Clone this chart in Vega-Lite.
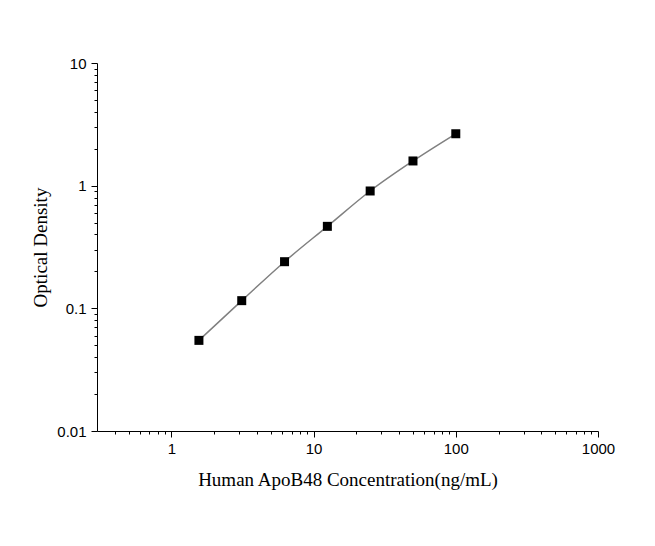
{
  "$schema": "https://vega.github.io/schema/vega-lite/v6.json",
  "autosize": {"type": "none"},
  "padding": {"left": 97, "top": 63, "right": 57, "bottom": 115},
  "width": 501,
  "height": 368,
  "background": "white",
  "config": {
    "view": {"stroke": null},
    "axis": {
      "domainColor": "black",
      "domainWidth": 1,
      "tickColor": "black",
      "tickWidth": 1,
      "labelColor": "black",
      "labelFont": "Liberation Sans",
      "labelFontSize": 15,
      "titleFont": "Liberation Serif",
      "titleFontSize": 19,
      "titleFontWeight": "normal",
      "titleColor": "black",
      "grid": false,
      "labelOverlap": false,
      "labelFlush": false
    }
  },
  "data": {
    "values": [
      {"conc": 1.5625, "od": 0.0548},
      {"conc": 3.125, "od": 0.1155},
      {"conc": 6.25, "od": 0.240},
      {"conc": 12.5, "od": 0.466},
      {"conc": 25, "od": 0.905},
      {"conc": 50, "od": 1.59},
      {"conc": 100, "od": 2.65}
    ]
  },
  "encoding": {
    "x": {
      "field": "conc",
      "type": "quantitative",
      "scale": {"type": "log", "domain": [0.3, 1000], "nice": false},
      "axis": {
        "title": "Human ApoB48 Concentration(ng/mL)",
        "titlePadding": 14,
        "labelPadding": 4,
        "values": [0.4, 0.5, 0.6, 0.7, 0.8, 0.9, 1, 2, 3, 4, 5, 6, 7, 8, 9, 10, 20, 30, 40, 50, 60, 70, 80, 90, 100, 200, 300, 400, 500, 600, 700, 800, 900, 1000],
        "labelExpr": "abs(log(datum.value)/LN10 - round(log(datum.value)/LN10)) < 0.001 ? format(datum.value, '~g') : ''",
        "tickSize": {"condition": {"test": "abs(log(datum.value)/LN10 - round(log(datum.value)/LN10)) < 0.001", "value": 6}, "value": 3}
      }
    },
    "y": {
      "field": "od",
      "type": "quantitative",
      "scale": {"type": "log", "domain": [0.01, 10], "nice": false},
      "axis": {
        "title": "Optical Density",
        "titlePadding": 6,
        "labelPadding": 5,
        "values": [0.01, 0.02, 0.03, 0.04, 0.05, 0.06, 0.07, 0.08, 0.09, 0.1, 0.2, 0.3, 0.4, 0.5, 0.6, 0.7, 0.8, 0.9, 1, 2, 3, 4, 5, 6, 7, 8, 9, 10],
        "labelExpr": "abs(log(datum.value)/LN10 - round(log(datum.value)/LN10)) < 0.001 ? format(datum.value, '~g') : ''",
        "tickSize": {"condition": {"test": "abs(log(datum.value)/LN10 - round(log(datum.value)/LN10)) < 0.001", "value": 6}, "value": 3}
      }
    }
  },
  "layer": [
    {
      "mark": {"type": "line", "color": "#808080", "strokeWidth": 1.5, "interpolate": "monotone"}
    },
    {
      "mark": {"type": "point", "shape": "square", "filled": true, "color": "black", "opacity": 1, "size": 81}
    }
  ]
}
